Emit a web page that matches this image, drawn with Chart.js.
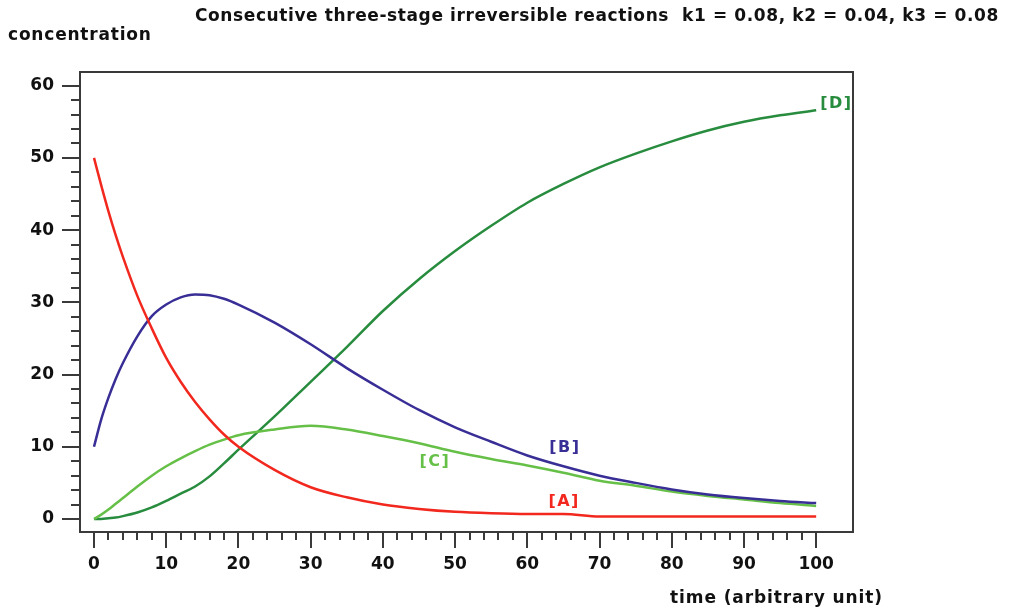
<!DOCTYPE html>
<html>
<head>
<meta charset="utf-8">
<script src="https://cdn.jsdelivr.net/npm/chart.js@4/dist/chart.umd.min.js"></script>
<style>
  html, body { margin: 0; padding: 0; background: #ffffff; }
  #wrap { width: 1029px; height: 612px; }
</style>
</head>
<body>
<div id="wrap"><canvas id="c" width="1029" height="612"></canvas></div>
<script>
// ---- data ----
const time = [0, 1, 2, 3, 4, 6, 8, 10, 12, 14, 16, 18, 20, 25, 30, 35, 40, 45, 50, 55, 60, 65, 70, 75, 80, 85, 90, 95, 100];
const concA = [50, 46.2, 42.6, 39.3, 36.3, 30.9, 26.4, 22.3, 19.0, 16.2, 13.8, 11.7, 10.0, 6.8, 4.4, 3.0, 2.0, 1.4, 1.0, 0.8, 0.7, 0.7, 0.35, 0.35, 0.35, 0.35, 0.35, 0.35, 0.35];
const concB = [10, 13.8, 16.8, 19.4, 21.6, 25.3, 28.1, 29.7, 30.7, 31.1, 31.0, 30.5, 29.7, 27.2, 24.2, 20.9, 17.9, 15.1, 12.7, 10.7, 8.8, 7.3, 6.0, 5.0, 4.1, 3.4, 2.9, 2.5, 2.2];
const concC = [0, 0.6, 1.3, 2.1, 2.9, 4.5, 6.0, 7.3, 8.4, 9.4, 10.3, 11.0, 11.6, 12.4, 12.9, 12.4, 11.5, 10.5, 9.3, 8.3, 7.4, 6.4, 5.3, 4.6, 3.8, 3.2, 2.7, 2.2, 1.8];
const concD = [0, 0, 0.1, 0.2, 0.4, 0.9, 1.6, 2.5, 3.5, 4.5, 5.9, 7.7, 9.6, 14.2, 19.0, 23.8, 28.8, 33.2, 37.1, 40.6, 43.8, 46.4, 48.7, 50.6, 52.3, 53.8, 55.0, 55.9, 56.6];
const seriesNames = ['[A]', '[B]', '[C]', '[D]'];
const xTickValues = [0, 10, 20, 30, 40, 50, 60, 70, 80, 90, 100];
const yTickValues = [0, 10, 20, 30, 40, 50, 60];
const titleText = 'Consecutive three-stage irreversible reactions  k1 = 0.08, k2 = 0.04, k3 = 0.08';
const yTitleText = 'concentration';
const xTitleText = 'time (arbitrary unit)';

// ---- styling ----
const colors = ['rgb(242,40,30)', 'rgb(56,46,150)', 'rgb(102,192,72)', 'rgb(40,140,62)'];
const labelAnchors = [[65.1, 2.4], [65.2, 9.8], [47.2, 7.9], [102.8, 57.5]];
const FONT = '"DejaVu Sans", Verdana, sans-serif';

function toXY(ys) { return time.map((t, i) => ({ x: t, y: ys[i] })); }

function spacedText(ctx, text, x, y, spacing) {
  if ('letterSpacing' in ctx) {
    ctx.letterSpacing = spacing + 'px';
    ctx.fillText(text, x, y);
    ctx.letterSpacing = '0px';
  } else {
    ctx.fillText(text, x, y);
  }
}

const decorPlugin = {
  id: 'decor',
  afterDraw(chart) {
    const { ctx, chartArea: a, scales: { x, y } } = chart;
    ctx.save();
    ctx.strokeStyle = '#3a3a3a';
    ctx.lineWidth = 2;
    ctx.strokeRect(a.left, a.top, a.right - a.left, a.bottom - a.top);
    ctx.beginPath();
    for (let v = 0; v <= 100; v += 2) {
      const px = Math.round(x.getPixelForValue(v));
      const len = v % 10 === 0 ? 16 : 8;
      ctx.moveTo(px, a.bottom);
      ctx.lineTo(px, a.bottom + len);
    }
    for (let v = 0; v <= 60; v += 2) {
      const py = Math.round(y.getPixelForValue(v));
      const len = v % 10 === 0 ? 18 : 9;
      ctx.moveTo(a.left, py);
      ctx.lineTo(a.left - len, py);
    }
    ctx.stroke();

    // texts
    ctx.fillStyle = '#111';
    ctx.textBaseline = 'middle';
    ctx.font = 'bold 17px ' + FONT;
    ctx.textAlign = 'left';
    spacedText(ctx, titleText, 195, 17, 0.6);
    spacedText(ctx, yTitleText, 8, 36, 0.8);
    ctx.textAlign = 'right';
    spacedText(ctx, xTitleText, 883, 599, 0.9);

    // series labels
    ctx.font = 'bold 16px ' + FONT;
    ctx.textAlign = 'center';
    seriesNames.forEach((n, i) => {
      ctx.fillStyle = colors[i];
      spacedText(ctx, n, x.getPixelForValue(labelAnchors[i][0]), y.getPixelForValue(labelAnchors[i][1]), 1.5);
    });
    ctx.restore();
  }
};

const datasets = [concA, concB, concC, concD].map((d, i) => ({
  label: seriesNames[i],
  data: toXY(d),
  borderColor: colors[i],
  backgroundColor: colors[i],
  borderWidth: 2.5,
  pointRadius: 0,
  fill: false,
  cubicInterpolationMode: 'monotone'
}));

new Chart(document.getElementById('c'), {
  type: 'line',
  data: { datasets },
  options: {
    responsive: false,
    devicePixelRatio: 1,
    animation: false,
    layout: { padding: { top: 72, right: 176, left: 0, bottom: 0 } },
    plugins: { legend: { display: false }, title: { display: false }, tooltip: { enabled: false } },
    scales: {
      x: {
        type: 'linear',
        min: -1.94,
        max: 105.1,
        afterBuildTicks(scale) { scale.ticks = xTickValues.map(v => ({ value: v })); },
        afterFit(scale) { scale.height = 80; },
        grid: { display: false },
        border: { display: false },
        ticks: {
          color: '#111',
          padding: 14,
          maxRotation: 0,
          autoSkip: false,
          font: { family: FONT, size: 17, weight: 'bold' }
        }
      },
      y: {
        type: 'linear',
        min: -1.8,
        max: 61.9,
        afterBuildTicks(scale) { scale.ticks = yTickValues.map(v => ({ value: v })); },
        afterFit(scale) { scale.width = 80; },
        grid: { display: false },
        border: { display: false },
        ticks: {
          color: '#111',
          padding: 18,
          autoSkip: false,
          font: { family: FONT, size: 17, weight: 'bold' }
        }
      }
    }
  },
  plugins: [decorPlugin]
});
</script>
</body>
</html>
